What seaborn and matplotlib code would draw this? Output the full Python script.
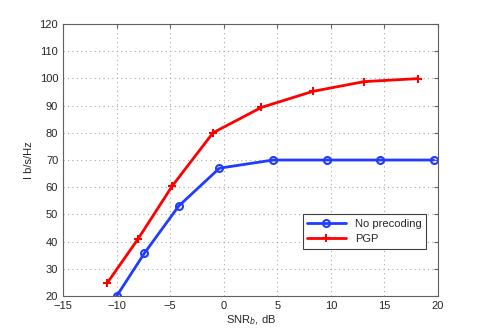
import matplotlib
matplotlib.use('Agg')
import matplotlib.pyplot as plt
import seaborn as sns
import pandas as pd

# data
snr_noprec = [-10.0, -7.4, -4.2, -0.4, 4.6, 9.6, 14.6, 19.6]
rate_noprec = [20.0, 35.8, 53.1, 67.0, 70.0, 70.0, 70.0, 70.0]
snr_pgp = [-10.9, -8.0, -4.8, -1.0, 3.5, 8.3, 13.1, 18.1]
rate_pgp = [24.7, 41.0, 60.5, 80.0, 89.3, 95.2, 98.8, 99.9]

sns.set_style('white')
plt.rcParams['font.family'] = ['Liberation Sans', 'DejaVu Sans']

fig = plt.figure(figsize=(4.85, 3.32), dpi=100)
ax = fig.add_axes([0.13, 0.108, 0.773, 0.82])

df1 = pd.DataFrame({'snr': snr_noprec, 'rate': rate_noprec})
df2 = pd.DataFrame({'snr': snr_pgp, 'rate': rate_pgp})

sns.lineplot(data=df1, x='snr', y='rate', ax=ax, sort=False, color='#1f3cff',
             linewidth=2, marker='o', markersize=5, markerfacecolor='none',
             markeredgecolor='#1f3cff', markeredgewidth=1.5, label='No precoding')
sns.lineplot(data=df2, x='snr', y='rate', ax=ax, sort=False, color='#ff0000',
             linewidth=2, marker='+', markersize=6, markeredgewidth=1.5,
             markeredgecolor='#ff0000', label='PGP')

ax.set_xlim(-15, 20)
ax.set_ylim(20, 120)
ax.set_xticks(range(-15, 21, 5))
ax.set_yticks(range(20, 121, 10))
ax.grid(True, linestyle=(0, (1, 3)), color='#a8a8a8', linewidth=0.8)
for s in ax.spines.values():
    s.set_color('#606060')
    s.set_linewidth(0.8)
ax.tick_params(direction='in', length=3, labelsize=8, top=True, right=True,
               color='#606060')
ax.set_xlabel('SNR$_b$, dB', fontsize=8, labelpad=2)
ax.set_ylabel('I b/s/Hz', fontsize=8, labelpad=4)

leg = ax.legend(loc='upper right', bbox_to_anchor=(0.968, 0.301), borderaxespad=0,
                fontsize=8, fancybox=False, framealpha=1, handlelength=3.5)
leg.get_frame().set_edgecolor('#404040')
leg.get_frame().set_linewidth(0.8)

fig.savefig('out.png', dpi=100)
plt.close(fig)
